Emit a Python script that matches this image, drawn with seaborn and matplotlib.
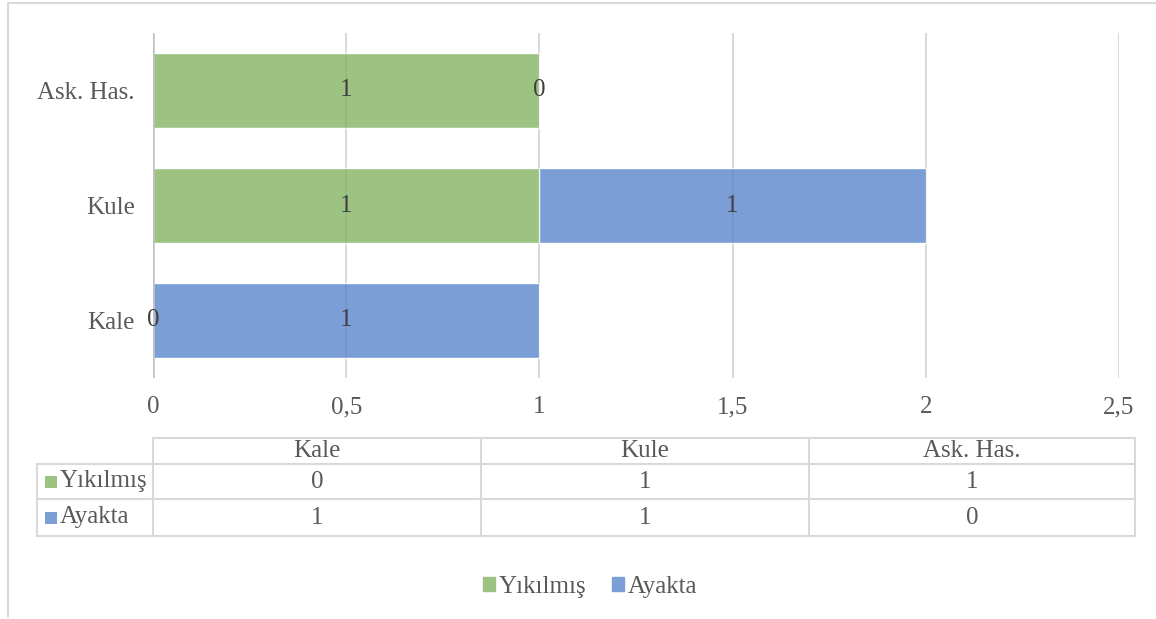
import pandas as pd
import numpy as np
import matplotlib
matplotlib.use("Agg")
import matplotlib.pyplot as plt
import seaborn as sns
from matplotlib.lines import Line2D
from matplotlib.patches import Patch

# data (Excel order: first category is drawn at the bottom)
categories = ["Kale", "Kule", "Ask. Has."]
yikilmis = [0, 1, 1]
ayakta = [1, 1, 0]
series_names = ["Yıkılmış", "Ayakta"]
xticks = [0, 0.5, 1, 1.5, 2, 2.5]
xtick_labels = ["0", "0,5", "1", "1,5", "2", "2,5"]

green = "#9DC383"
blue = "#7B9ED6"
text_col = "#595959"
fs = 18

sns.set_theme(style="white")
plt.rcParams["font.family"] = ["Liberation Serif", "DejaVu Serif"]

W, H = 1156, 619
fig = plt.figure(figsize=(W / 100, H / 100), dpi=100)


def fx(px):
    return px / W


def fy(py):
    return 1 - py / H


ax = fig.add_axes([fx(153), fy(378), fx(1119) - fx(153), fy(33) - fy(378)])

df = pd.DataFrame({"cat": categories, "yik": yikilmis, "aya": ayakta})
df["total"] = df["yik"] + df["aya"]
order = categories[::-1]

# stacked: totals in blue underneath, green on top from 0
sns.barplot(data=df, y="cat", x="total", order=order, color=blue, width=0.65,
            saturation=1, orient="h", ax=ax, zorder=2)
sns.barplot(data=df, y="cat", x="yik", order=order, color=green, width=0.65,
            saturation=1, orient="h", ax=ax, zorder=3)

ax.set_xlim(0, 2.5)
ax.set_ylim(len(order) - 0.5, -0.5)
ax.set_xticks(xticks)
ax.set_xticklabels(xtick_labels)
ax.set_xlabel("")
ax.set_ylabel("")
# light gridlines, faintly visible through the bars
for x in xticks[1:]:
    ax.axvline(x, color="#E2E2E2", lw=1.3, zorder=1)
    ax.axvline(x, color="black", lw=1.3, zorder=4, alpha=0.05)
ax.axvline(0, color="#BFBFBF", lw=1.8, zorder=5)
for s in ax.spines.values():
    s.set_visible(False)
ax.tick_params(axis="both", length=0, labelsize=fs, colors=text_col)
ax.tick_params(axis="x", pad=13)
ax.tick_params(axis="y", pad=13)

# data labels centred in each segment
for i, cat in enumerate(order):
    row = df[df["cat"] == cat].iloc[0]
    ax.text(row["yik"] / 2, i, str(row["yik"]), ha="center", va="center",
            fontsize=fs, color="#404040", zorder=6)
    ax.text(row["yik"] + row["aya"] / 2, i, str(row["aya"]), ha="center",
            va="center", fontsize=fs, color="#404040", zorder=6)

# data table below the chart
grid_col = "#D9D9D9"
col_x = [153, 481, 809, 1135]
row_y = [438, 464, 499, 536]
lab_x = 37


def hline(x0, x1, y):
    fig.add_artist(Line2D([fx(x0), fx(x1)], [fy(y), fy(y)], color=grid_col, lw=1.5))


def vline(x, y0, y1):
    fig.add_artist(Line2D([fx(x), fx(x)], [fy(y0), fy(y1)], color=grid_col, lw=1.5))


hline(col_x[0], col_x[-1], row_y[0])
for y in row_y[1:]:
    hline(lab_x, col_x[-1], y)
vline(lab_x, row_y[1], row_y[-1])
for x in col_x:
    vline(x, row_y[0], row_y[-1])

for j, cat in enumerate(categories):
    cx = (col_x[j] + col_x[j + 1]) / 2
    fig.text(fx(cx), fy((row_y[0] + row_y[1]) / 2), cat, ha="center",
             va="center", fontsize=fs, color=text_col)
    for r, vals in enumerate([yikilmis, ayakta]):
        fig.text(fx(cx), fy((row_y[r + 1] + row_y[r + 2]) / 2), str(vals[j]),
                 ha="center", va="center", fontsize=fs, color=text_col)

for r, (name, c) in enumerate(zip(series_names, [green, blue])):
    yc = (row_y[r + 1] + row_y[r + 2]) / 2
    fig.add_artist(plt.Rectangle((fx(45), fy(yc + 6)), fx(12), 12 / H,
                                 color=c, lw=0))
    fig.text(fx(60), fy(yc), name, ha="left", va="center", fontsize=fs,
             color=text_col)

# legend
handles = [Patch(color=green, label=series_names[0]),
           Patch(color=blue, label=series_names[1])]
leg = fig.legend(handles=handles, loc="center", bbox_to_anchor=(fx(590), fy(587)),
                 ncol=2, frameon=False, fontsize=fs, handlelength=0.5,
                 handleheight=0.5, handletextpad=0.15, columnspacing=1.0)
for t in leg.get_texts():
    t.set_color(text_col)

# outer chart border (left and top visible)
fig.add_artist(Line2D([fx(8), fx(8)], [fy(3), fy(617)], color="#D9D9D9", lw=1.5))
fig.add_artist(Line2D([fx(8), fx(1156)], [fy(3), fy(3)], color="#D9D9D9", lw=1.5))

fig.savefig("out.png", dpi=100)
